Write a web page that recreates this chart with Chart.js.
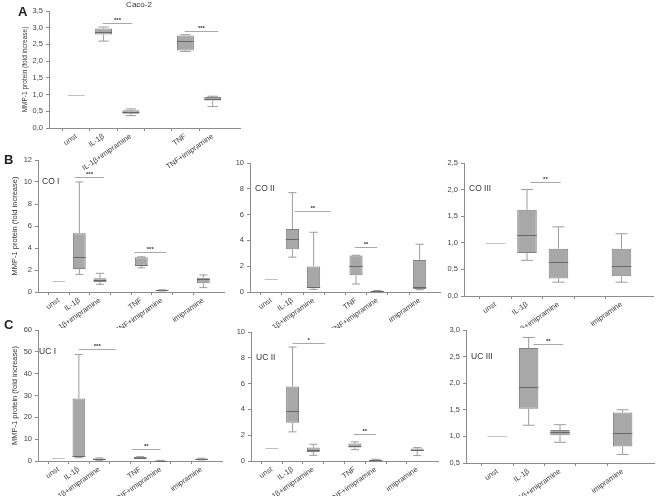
<!DOCTYPE html>
<html>
<head>
<meta charset="utf-8">
<script src="https://cdn.jsdelivr.net/npm/chart.js@4.4.1/dist/chart.umd.min.js"></script>
<style>
html, body { margin: 0; padding: 0; background: #fff; }
#fig { position: relative; width: 661px; height: 496px; overflow: hidden; font-family: "Liberation Sans", Arial, sans-serif; }
#fig canvas { position: absolute; }
.letter { position: absolute; font-size: 13px; font-weight: bold; color: #222; line-height: 13px; }
</style>
</head>
<body>
<div id="fig">
  <canvas id="cA"></canvas>
  <canvas id="cB1"></canvas>
  <canvas id="cB2"></canvas>
  <canvas id="cB3"></canvas>
  <canvas id="cC1"></canvas>
  <canvas id="cC2"></canvas>
  <canvas id="cC3"></canvas>
  <div class="letter" style="left:18px;top:5px">A</div>
  <div class="letter" style="left:4px;top:153px">B</div>
  <div class="letter" style="left:4px;top:318px">C</div>
</div>
<script>
// category labels ('' = empty slot)
const labelsA = ['', 'unst', 'IL-1β', 'IL-1β+imipramine', '', 'TNF', 'TNF+imipramine', ''];
const labelsI = ['', 'unst', 'IL-1β', 'IL-1β+imipramine', '', 'TNF', 'TNF+imipramine', '', 'imipramine', ''];
const labelsIII = ['', 'unst', 'IL-1β', 'IL-1β+imipramine', '', 'imipramine', ''];

// box values per category: [min, q1, median, q3, max]
const caco2Box = [null, [1, 1, 1, 1, 1], [2.6, 2.8, 2.88, 2.98, 3.02], [0.37, 0.43, 0.47, 0.53, 0.57], null,
  [2.29, 2.32, 2.6, 2.77, 2.79], [0.64, 0.82, 0.87, 0.93, 0.95], null];
const coIBox = [null, [1, 1, 1, 1, 1], [1.6, 2.1, 3.2, 5.35, 10], [0.7, 0.9, 1.1, 1.25, 1.7], null,
  [2.2, 2.4, 2.5, 3.15, 3.2], [0.1, 0.12, 0.15, 0.17, 0.2], null, [0.4, 0.8, 1.15, 1.3, 1.55], null];
const coIIBox = [null, [1, 1, 1, 1, 1], [2.7, 3.32, 4.09, 4.88, 7.7], [0.2, 0.3, 0.37, 1.98, 4.63], null,
  [0.62, 1.29, 2.03, 2.83, 2.85], [0.05, 0.07, 0.08, 0.1, 0.12], null, [0.18, 0.23, 0.36, 2.49, 3.7], null];
const coIIIBox = [null, [1, 1, 1, 1, 1], [0.67, 0.81, 1.15, 1.62, 2.0], [0.26, 0.33, 0.63, 0.89, 1.3], null,
  [0.26, 0.37, 0.57, 0.89, 1.17], null];
const ucIBox = [null, [1.2, 1.2, 1.2, 1.2, 1.2], [1.5, 1.8, 2.3, 28.6, 48.8], [0.3, 0.6, 0.8, 1.1, 1.4], null,
  [1.2, 1.3, 1.5, 1.8, 2.0], [0.05, 0.1, 0.15, 0.2, 0.3], null, [0.5, 0.7, 0.9, 1.1, 1.3], null];
const ucIIBox = [null, [1, 1, 1, 1, 1], [2.26, 2.96, 3.9, 5.77, 8.83], [0.44, 0.7, 0.83, 1.04, 1.3], null,
  [0.88, 1.04, 1.17, 1.35, 1.48], [0.05, 0.07, 0.1, 0.12, 0.14], null, [0.42, 0.78, 0.88, 0.96, 1.04], null];
const ucIIIBox = [null, [1, 1, 1, 1, 1], [1.21, 1.52, 1.93, 2.66, 2.86], [0.89, 1.02, 1.09, 1.12, 1.22], null,
  [0.66, 0.81, 1.07, 1.45, 1.5], null];

// significance bars: [from index, to index, y value, stars]
const caco2Sig = [[1.97, 3.05, 3.13, '***'], [4.97, 6.2, 2.9, '***']];
const coISig = [[1.78, 3.2, 10.5, '***'], [4.66, 6.2, 3.6, '***']];
const coIISig = [[2.12, 3.8, 6.27, '**'], [4.95, 6.0, 3.52, '**']];
const coIIISig = [[2.1, 3.07, 2.15, '**']];
const ucISig = [[2.0, 3.8, 51.3, '***'], [4.6, 6.0, 5.7, '**']];
const ucIISig = [[2.0, 3.55, 9.14, '*'], [4.95, 6.0, 2.08, '**']];
const ucIIISig = [[2.15, 3.1, 2.74, '**']];

const FONT = '"Liberation Sans", Arial, sans-serif';
const comma = v => v.toFixed(1).replace('.', ',');

const boxPlugin = {
  id: 'boxes',
  afterDatasetsDraw(chart, args, o) {
    const { ctx, chartArea: a, scales: { x, y } } = chart;
    const meta = chart.getDatasetMeta(0);
    ctx.save();
    ctx.lineWidth = 1;
    o.boxes.forEach((b, i) => {
      if (!b) return;
      const cx = x.getPixelForValue(i);
      const w = meta.data[i].width;
      const cap = w * 0.31;
      if (b[1] !== b[3]) {
        ctx.strokeStyle = '#9c9c9c';
        ctx.beginPath();
        ctx.moveTo(cx, y.getPixelForValue(b[3])); ctx.lineTo(cx, y.getPixelForValue(b[4]));
        ctx.moveTo(cx - cap, y.getPixelForValue(b[4])); ctx.lineTo(cx + cap, y.getPixelForValue(b[4]));
        ctx.moveTo(cx, y.getPixelForValue(b[1])); ctx.lineTo(cx, y.getPixelForValue(b[0]));
        ctx.moveTo(cx - cap, y.getPixelForValue(b[0])); ctx.lineTo(cx + cap, y.getPixelForValue(b[0]));
        ctx.stroke();
        ctx.strokeStyle = '#686868';
      } else {
        ctx.strokeStyle = '#c0c0c0';
      }
      const my = Math.round(y.getPixelForValue(b[2])) + 0.5;
      ctx.beginPath(); ctx.moveTo(cx - w / 2, my); ctx.lineTo(cx + w / 2, my); ctx.stroke();
    });
    o.sig.forEach(s => {
      const yy = Math.round(y.getPixelForValue(s[2])) + 0.5;
      ctx.strokeStyle = '#a8a8a8';
      ctx.beginPath(); ctx.moveTo(x.getPixelForValue(s[0]), yy); ctx.lineTo(x.getPixelForValue(s[1]), yy); ctx.stroke();
      ctx.fillStyle = '#333';
      ctx.font = 'bold 6px ' + FONT;
      ctx.textAlign = 'center';
      ctx.textBaseline = 'bottom';
      ctx.fillText(s[3], x.getPixelForValue((s[0] + s[1]) / 2), yy);
    });
    ctx.fillStyle = '#333';
    ctx.font = o.name.size + 'px ' + FONT;
    ctx.textAlign = o.name.align;
    ctx.textBaseline = 'middle';
    ctx.fillText(o.name.text, a.left + o.name.dx, a.top + o.name.dy);
    ctx.restore();
  }
};

function makePanel(id, p) {
  const cv = document.getElementById(id);
  cv.width = p.cw; cv.height = p.ch;
  cv.style.left = p.cl + 'px'; cv.style.top = p.ct + 'px';
  cv.style.width = p.cw + 'px'; cv.style.height = p.ch + 'px';
  const last = p.labels.length - 1;
  return new Chart(cv, {
    type: 'bar',
    data: {
      labels: p.labels,
      datasets: [{
        data: p.boxes.map(b => b ? [b[1], b[3]] : null),
        backgroundColor: '#a8a8a8',
        borderColor: '#828282',
        borderWidth: 1,
        borderSkipped: false,
        barPercentage: 0.62,
        categoryPercentage: 1
      }]
    },
    options: {
      responsive: false,
      animation: false,
      layout: { padding: { left: 0, right: p.cw - (p.r - p.cl), top: p.t - p.ct, bottom: 0 } },
      plugins: {
        legend: { display: false },
        tooltip: { enabled: false },
        boxes: { boxes: p.boxes, sig: p.sig, name: p.name }
      },
      scales: {
        x: {
          offset: false,
          afterFit: s => { s.height = p.ch - (p.b - p.ct); },
          border: { color: '#8c8c8c' },
          grid: {
            drawOnChartArea: false, tickLength: 3,
            tickColor: c => (c.index === 0 || c.index === last) ? 'rgba(0,0,0,0)' : '#8c8c8c'
          },
          ticks: {
            autoSkip: false, minRotation: 35, maxRotation: 35, padding: 1,
            color: '#444', font: { size: 7.5, family: FONT }
          }
        },
        y: {
          min: p.ymin, max: p.ymax,
          afterFit: s => { s.width = p.l - p.cl; },
          border: { color: '#8c8c8c' },
          grid: { drawOnChartArea: false, tickLength: 3, tickColor: '#8c8c8c' },
          ticks: {
            stepSize: p.step, padding: 3, color: '#444', font: { size: 7.5, family: FONT },
            callback: p.fmt
          },
          title: {
            display: !!p.ytitle, text: p.ytitle || '', color: '#333',
            font: { size: p.ytSize || 7.5, family: FONT }, padding: { top: p.ytPad || 0, bottom: 0 }
          }
        }
      }
    },
    plugins: [boxPlugin]
  });
}

const yTitle = 'MMP-1 protein (fold increase)';
const intFmt = v => String(v);

makePanel('cA', { labels: labelsA, boxes: caco2Box, sig: caco2Sig, cl: 0, ct: 0, cw: 250, ch: 178,
  l: 49, r: 240, t: 11, b: 128, ymin: 0, ymax: 3.5, step: 0.5, fmt: comma,
  ytitle: yTitle, ytSize: 6.5, ytPad: 21, name: { text: 'Caco-2', dx: 90, dy: -6, size: 8, align: 'center' } });
makePanel('cB1', { labels: labelsI, boxes: coIBox, sig: coISig, cl: 0, ct: 150, cw: 232, ch: 178,
  l: 38, r: 224, t: 160, b: 292, ymin: 0, ymax: 12, step: 2, fmt: intFmt,
  ytitle: yTitle, ytPad: 10, name: { text: 'CO I', dx: 4, dy: 22, size: 8.5, align: 'left' } });
makePanel('cB2', { labels: labelsI, boxes: coIIBox, sig: coIISig, cl: 215, ct: 150, cw: 232, ch: 178,
  l: 250, r: 442, t: 163, b: 292, ymin: 0, ymax: 10, step: 2, fmt: intFmt,
  name: { text: 'CO II', dx: 5, dy: 26, size: 8.5, align: 'left' } });
makePanel('cB3', { labels: labelsIII, boxes: coIIIBox, sig: coIIISig, cl: 430, ct: 150, cw: 231, ch: 178,
  l: 464, r: 653, t: 163, b: 296, ymin: 0, ymax: 2.5, step: 0.5, fmt: comma,
  name: { text: 'CO III', dx: 5, dy: 26, size: 8.5, align: 'left' } });
makePanel('cC1', { labels: labelsI, boxes: ucIBox, sig: ucISig, cl: 0, ct: 315, cw: 232, ch: 181,
  l: 38, r: 222, t: 330, b: 461, ymin: 0, ymax: 60, step: 10, fmt: intFmt,
  ytitle: yTitle, ytPad: 10, name: { text: 'UC I', dx: 1, dy: 22, size: 8.5, align: 'left' } });
makePanel('cC2', { labels: labelsI, boxes: ucIIBox, sig: ucIISig, cl: 215, ct: 315, cw: 232, ch: 181,
  l: 251, r: 438, t: 332, b: 461, ymin: 0, ymax: 10, step: 2, fmt: intFmt,
  name: { text: 'UC II', dx: 5, dy: 26, size: 8.5, align: 'left' } });
makePanel('cC3', { labels: labelsIII, boxes: ucIIIBox, sig: ucIIISig, cl: 430, ct: 315, cw: 231, ch: 181,
  l: 466, r: 654, t: 330, b: 463, ymin: 0.5, ymax: 3.0, step: 0.5, fmt: comma,
  name: { text: 'UC III', dx: 5, dy: 27, size: 8.5, align: 'left' } });
</script>
</body>
</html>
